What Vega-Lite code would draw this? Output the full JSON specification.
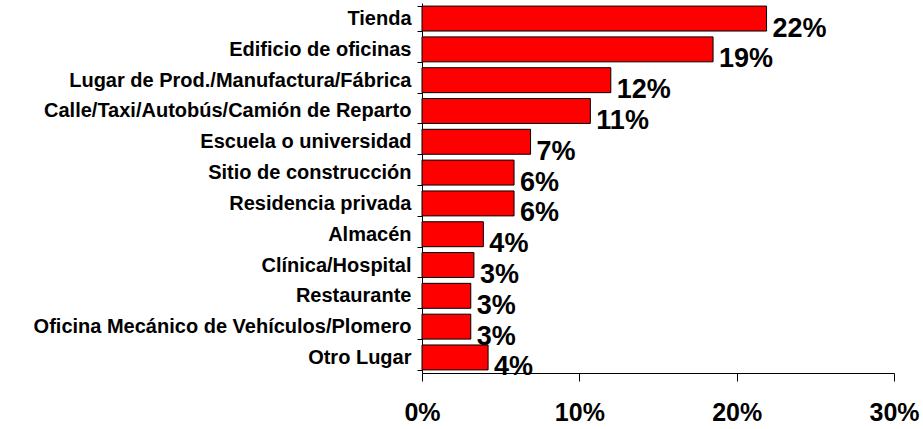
{
  "$schema": "https://vega.github.io/schema/vega-lite/v6.json",
  "width": 472,
  "height": 370,
  "autosize": {"type": "none"},
  "padding": {"left": 422, "top": 3, "right": 29, "bottom": 53},
  "background": "white",
  "config": {
    "view": {"stroke": null},
    "font": "Liberation Sans"
  },
  "data": {
    "values": [
      {"lugar": "Tienda", "pct": 21.9, "etiqueta": "22%"},
      {"lugar": "Edificio de oficinas", "pct": 18.5, "etiqueta": "19%"},
      {"lugar": "Lugar de Prod./Manufactura/Fábrica", "pct": 12.0, "etiqueta": "12%"},
      {"lugar": "Calle/Taxi/Autobús/Camión de Reparto", "pct": 10.7, "etiqueta": "11%"},
      {"lugar": "Escuela o universidad", "pct": 6.9, "etiqueta": "7%"},
      {"lugar": "Sitio de construcción", "pct": 5.85, "etiqueta": "6%"},
      {"lugar": "Residencia privada", "pct": 5.85, "etiqueta": "6%"},
      {"lugar": "Almacén", "pct": 3.9, "etiqueta": "4%"},
      {"lugar": "Clínica/Hospital", "pct": 3.3, "etiqueta": "3%"},
      {"lugar": "Restaurante", "pct": 3.1, "etiqueta": "3%"},
      {"lugar": "Oficina Mecánico de Vehículos/Plomero", "pct": 3.1, "etiqueta": "3%"},
      {"lugar": "Otro Lugar", "pct": 4.2, "etiqueta": "4%"}
    ]
  },
  "encoding": {
    "y": {
      "field": "lugar",
      "type": "nominal",
      "sort": null,
      "title": null,
      "scale": {"paddingInner": 0.19, "paddingOuter": 0.1},
      "axis": {
        "tickBand": "extent",
        "domainColor": "black",
        "tickColor": "black",
        "tickSize": 5,
        "labelPadding": 6,
        "labelFontSize": 20,
        "labelFontWeight": "bold",
        "labelColor": "black",
        "labelFont": "Liberation Sans",
        "labelLimit": 600
      }
    },
    "x": {
      "field": "pct",
      "type": "quantitative",
      "title": null,
      "scale": {"domain": [0, 30], "nice": false},
      "axis": {
        "values": [0, 10, 20, 30],
        "labelExpr": "datum.value + '%'",
        "grid": false,
        "domainColor": "black",
        "tickColor": "black",
        "tickSize": 8,
        "labelPadding": 19,
        "labelFontSize": 25,
        "labelFontWeight": "bold",
        "labelColor": "black",
        "labelFont": "Liberation Sans",
        "labelFlush": false
      }
    }
  },
  "layer": [
    {
      "mark": {"type": "bar", "fill": "#ff0000", "stroke": "black", "strokeWidth": 1}
    },
    {
      "mark": {
        "type": "text",
        "align": "left",
        "baseline": "middle",
        "dx": 6,
        "dy": 10,
        "fontSize": 27,
        "fontWeight": "bold",
        "font": "Liberation Sans",
        "color": "black"
      },
      "encoding": {"text": {"field": "etiqueta", "type": "nominal"}}
    }
  ]
}
